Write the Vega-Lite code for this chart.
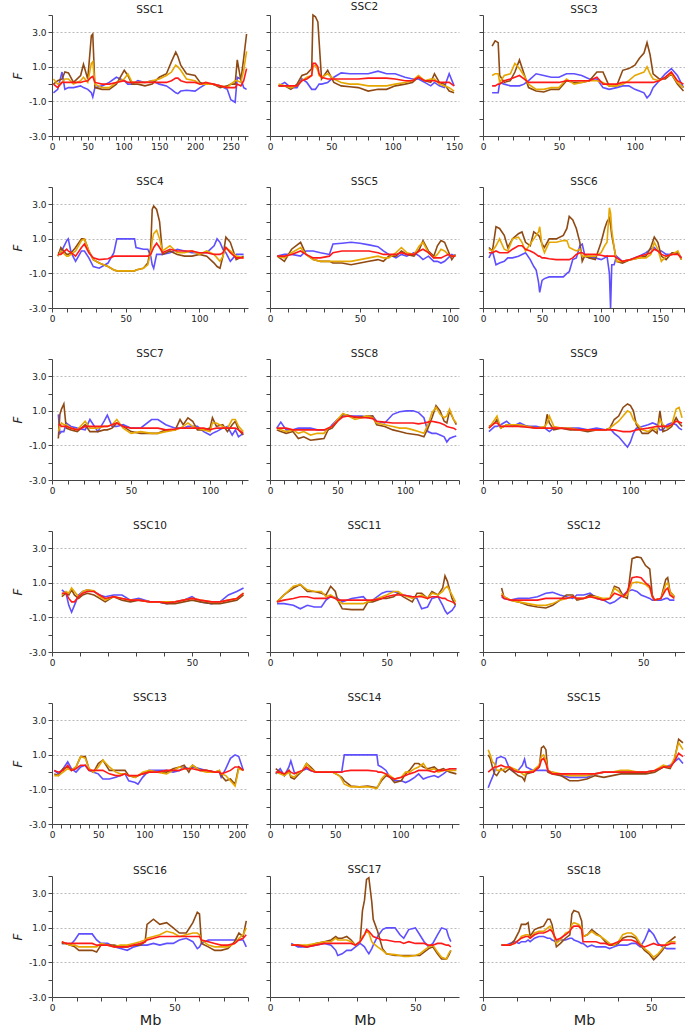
{
"$schema":"https://vega.github.io/schema/vega-lite/v6.json",
"padding":{"top":2,"left":11,"right":0,"bottom":0},
"background":"white",
"config":{
 "view":{"stroke":null},
 "axis":{"labelFont":"DejaVu Sans","labelFontSize":9,"labelColor":"#222","domainColor":"#444","tickColor":"#444","tickSize":4,"labelPadding":2,"titleFont":"DejaVu Sans","titleFontWeight":"normal","titleColor":"#222"},
 "axisY":{"gridColor":"#BBBBBB","gridDash":[2,2],"gridWidth":1},
 "axisX":{"grid":false,"labelFlush":false,"labelOverlap":false},
 "title":{"font":"DejaVu Sans","fontSize":10.5,"fontWeight":"normal","color":"#222","offset":-1,"frame":"group"},
 "line":{"strokeWidth":1.6,"clip":true}
},
"data":{"values":[
{"c":"SSC1","x":2,"blue":-0.5,"brown":0,"gold":0.3,"red":0},
{"c":"SSC1","x":8,"blue":-0.3,"brown":0.2,"gold":0,"red":-0.2},
{"c":"SSC1","x":14,"blue":0.7,"brown":0.3,"gold":0.1,"red":0.1},
{"c":"SSC1","x":18,"blue":-0.3,"brown":0.7,"gold":0.3,"red":0.1},
{"c":"SSC1","x":23,"blue":-0.2,"brown":0.65,"gold":0.3,"red":0.1},
{"c":"SSC1","x":30,"blue":-0.2,"brown":0.1,"gold":0,"red":0.1},
{"c":"SSC1","x":40,"blue":-0.1,"brown":0.5,"gold":0.2,"red":0.1},
{"c":"SSC1","x":44,"blue":-0.2,"brown":1.15,"gold":0.4,"red":0.15},
{"c":"SSC1","x":50,"blue":-0.3,"brown":0.3,"gold":0.1,"red":0.2},
{"c":"SSC1","x":55,"blue":-0.5,"brown":2.8,"gold":1.2,"red":0.4},
{"c":"SSC1","x":57,"blue":-0.75,"brown":2.9,"gold":1.3,"red":0.45},
{"c":"SSC1","x":60,"blue":-0.2,"brown":-0.2,"gold":0,"red":0.1},
{"c":"SSC1","x":70,"blue":-0.1,"brown":-0.3,"gold":-0.2,"red":0},
{"c":"SSC1","x":80,"blue":0.1,"brown":-0.3,"gold":-0.2,"red":0},
{"c":"SSC1","x":90,"blue":0.4,"brown":0,"gold":0.1,"red":0.1},
{"c":"SSC1","x":101,"blue":0.2,"brown":0.8,"gold":0.3,"red":0.2},
{"c":"SSC1","x":106,"blue":0,"brown":0.5,"gold":0.6,"red":0.1},
{"c":"SSC1","x":112,"blue":0,"brown":0,"gold":0.1,"red":0.1},
{"c":"SSC1","x":120,"blue":0.2,"brown":0,"gold":0.1,"red":0.1},
{"c":"SSC1","x":130,"blue":0.1,"brown":-0.1,"gold":0.1,"red":0.1},
{"c":"SSC1","x":140,"blue":0.2,"brown":0,"gold":0.2,"red":0.1},
{"c":"SSC1","x":150,"blue":0,"brown":0.4,"gold":0.3,"red":0.1},
{"c":"SSC1","x":160,"blue":-0.1,"brown":0.6,"gold":0.5,"red":0.1},
{"c":"SSC1","x":167,"blue":-0.3,"brown":1.3,"gold":0.7,"red":0.2},
{"c":"SSC1","x":173,"blue":-0.5,"brown":1.85,"gold":1.1,"red":0.35},
{"c":"SSC1","x":176,"blue":-0.55,"brown":1.6,"gold":1.0,"red":0.35},
{"c":"SSC1","x":180,"blue":-0.4,"brown":1.1,"gold":0.8,"red":0.2},
{"c":"SSC1","x":188,"blue":-0.35,"brown":0.6,"gold":0.3,"red":0.1},
{"c":"SSC1","x":200,"blue":-0.4,"brown":0.5,"gold":0.2,"red":0.1},
{"c":"SSC1","x":207,"blue":-0.2,"brown":0.1,"gold":0,"red":0},
{"c":"SSC1","x":215,"blue":0,"brown":0,"gold":0,"red":0.1},
{"c":"SSC1","x":225,"blue":0,"brown":0,"gold":0,"red":0},
{"c":"SSC1","x":235,"blue":-0.1,"brown":-0.2,"gold":-0.1,"red":-0.1},
{"c":"SSC1","x":245,"blue":-0.3,"brown":-0.1,"gold":-0.2,"red":-0.2},
{"c":"SSC1","x":250,"blue":-0.9,"brown":0,"gold":0,"red":-0.2},
{"c":"SSC1","x":256,"blue":-1.05,"brown":0,"gold":0.2,"red":-0.2},
{"c":"SSC1","x":259,"blue":0.4,"brown":1.4,"gold":0.2,"red":0},
{"c":"SSC1","x":264,"blue":0.3,"brown":0.2,"gold":0.1,"red":-0.1},
{"c":"SSC1","x":268,"blue":-0.2,"brown":1.5,"gold":0.8,"red":0.2},
{"c":"SSC1","x":272,"blue":-0.3,"brown":2.9,"gold":1.9,"red":0.9},
{"c":"SSC2","x":7,"blue":-0.1,"brown":-0.1,"gold":0,"red":-0.1},
{"c":"SSC2","x":12,"blue":0.1,"brown":-0.1,"gold":-0.1,"red":-0.1},
{"c":"SSC2","x":17,"blue":-0.2,"brown":-0.3,"gold":-0.2,"red":-0.1},
{"c":"SSC2","x":22,"blue":-0.2,"brown":0,"gold":-0.1,"red":-0.1},
{"c":"SSC2","x":26,"blue":0.3,"brown":0.5,"gold":0.2,"red":0.2},
{"c":"SSC2","x":30,"blue":0.1,"brown":0.6,"gold":0.4,"red":0.3},
{"c":"SSC2","x":34,"blue":-0.3,"brown":0.9,"gold":0.5,"red":0.5},
{"c":"SSC2","x":35,"blue":-0.3,"brown":4.0,"gold":1.0,"red":1.2},
{"c":"SSC2","x":37,"blue":-0.3,"brown":3.9,"gold":1.1,"red":1.2},
{"c":"SSC2","x":39,"blue":-0.1,"brown":3.6,"gold":0.8,"red":1.0},
{"c":"SSC2","x":40,"blue":0,"brown":2.5,"gold":0.5,"red":0.6},
{"c":"SSC2","x":42,"blue":0,"brown":0.3,"gold":0.4,"red":0.4},
{"c":"SSC2","x":47,"blue":0.1,"brown":0.8,"gold":0.6,"red":0.3},
{"c":"SSC2","x":52,"blue":0.4,"brown":0.1,"gold":0.3,"red":0.3},
{"c":"SSC2","x":58,"blue":0.65,"brown":-0.1,"gold":0.1,"red":0.3},
{"c":"SSC2","x":65,"blue":0.6,"brown":-0.15,"gold":0,"red":0.3},
{"c":"SSC2","x":72,"blue":0.6,"brown":-0.2,"gold":0,"red":0.3},
{"c":"SSC2","x":80,"blue":0.6,"brown":-0.4,"gold":-0.1,"red":0.35},
{"c":"SSC2","x":88,"blue":0.75,"brown":-0.3,"gold":-0.1,"red":0.35},
{"c":"SSC2","x":95,"blue":0.6,"brown":-0.3,"gold":-0.1,"red":0.35},
{"c":"SSC2","x":102,"blue":0.6,"brown":-0.1,"gold":0,"red":0.3},
{"c":"SSC2","x":110,"blue":0.4,"brown":0,"gold":0.1,"red":0.2},
{"c":"SSC2","x":116,"blue":0.3,"brown":0.1,"gold":0.2,"red":0.2},
{"c":"SSC2","x":121,"blue":0.3,"brown":0.4,"gold":0.5,"red":0.4},
{"c":"SSC2","x":126,"blue":0.1,"brown":0.2,"gold":0.2,"red":0.2},
{"c":"SSC2","x":131,"blue":-0.1,"brown":0.1,"gold":0.3,"red":0.2},
{"c":"SSC2","x":134,"blue":0.1,"brown":0.6,"gold":0.3,"red":0.2},
{"c":"SSC2","x":138,"blue":-0.1,"brown":0.1,"gold":0,"red":0.1},
{"c":"SSC2","x":142,"blue":-0.2,"brown":0,"gold":-0.1,"red":0.1},
{"c":"SSC2","x":146,"blue":0.6,"brown":-0.4,"gold":-0.2,"red":0.1},
{"c":"SSC2","x":150,"blue":-0.1,"brown":-0.5,"gold":-0.4,"red":-0.1},
{"c":"SSC3","x":6,"blue":-0.5,"brown":2.2,"gold":0.5,"red":-0.1},
{"c":"SSC3","x":8,"blue":-0.5,"brown":2.5,"gold":0.6,"red":-0.1},
{"c":"SSC3","x":10,"blue":-0.5,"brown":2.4,"gold":0.6,"red":0},
{"c":"SSC3","x":11,"blue":0.1,"brown":0.5,"gold":0.1,"red":0},
{"c":"SSC3","x":14,"blue":0,"brown":0.1,"gold":0.5,"red":0.2},
{"c":"SSC3","x":18,"blue":-0.1,"brown":0.2,"gold":0.6,"red":0.3},
{"c":"SSC3","x":21,"blue":-0.1,"brown":0.7,"gold":1.2,"red":0.4},
{"c":"SSC3","x":24,"blue":-0.1,"brown":1.4,"gold":0.9,"red":0.5},
{"c":"SSC3","x":27,"blue":0,"brown":0.6,"gold":0.5,"red":0.3},
{"c":"SSC3","x":30,"blue":0.2,"brown":-0.2,"gold":0,"red":0.1},
{"c":"SSC3","x":35,"blue":0.6,"brown":-0.4,"gold":-0.3,"red":0.1},
{"c":"SSC3","x":40,"blue":0.5,"brown":-0.45,"gold":-0.3,"red":0.1},
{"c":"SSC3","x":45,"blue":0.4,"brown":-0.3,"gold":-0.2,"red":0.1},
{"c":"SSC3","x":50,"blue":0.4,"brown":-0.3,"gold":-0.2,"red":0.1},
{"c":"SSC3","x":55,"blue":0.6,"brown":0.2,"gold":0.3,"red":0.2},
{"c":"SSC3","x":60,"blue":0.6,"brown":0.1,"gold":0,"red":0.2},
{"c":"SSC3","x":65,"blue":0.5,"brown":0.1,"gold":0.1,"red":0.2},
{"c":"SSC3","x":70,"blue":0.3,"brown":0.2,"gold":0.2,"red":0.2},
{"c":"SSC3","x":75,"blue":0.3,"brown":0.7,"gold":0.2,"red":0.4},
{"c":"SSC3","x":79,"blue":-0.2,"brown":0.7,"gold":0.1,"red":0},
{"c":"SSC3","x":83,"blue":-0.3,"brown":-0.1,"gold":-0.1,"red":0},
{"c":"SSC3","x":88,"blue":-0.2,"brown":-0.1,"gold":-0.1,"red":0},
{"c":"SSC3","x":92,"blue":-0.1,"brown":0.8,"gold":0,"red":0.1},
{"c":"SSC3","x":96,"blue":-0.1,"brown":0.9,"gold":0.2,"red":0.1},
{"c":"SSC3","x":100,"blue":-0.3,"brown":1.1,"gold":0.5,"red":0.1},
{"c":"SSC3","x":103,"blue":-0.4,"brown":1.5,"gold":0.6,"red":0.1},
{"c":"SSC3","x":106,"blue":-0.5,"brown":1.8,"gold":0.7,"red":0.1},
{"c":"SSC3","x":108,"blue":-0.8,"brown":2.4,"gold":1.0,"red":0.1},
{"c":"SSC3","x":110,"blue":-0.6,"brown":1.7,"gold":0.6,"red":0.1},
{"c":"SSC3","x":112,"blue":-0.2,"brown":0.6,"gold":0.3,"red":0.1},
{"c":"SSC3","x":116,"blue":0.2,"brown":0.3,"gold":0.2,"red":0.2},
{"c":"SSC3","x":120,"blue":0.6,"brown":0.3,"gold":0.4,"red":0.4},
{"c":"SSC3","x":124,"blue":0.9,"brown":0.6,"gold":0.6,"red":0.7},
{"c":"SSC3","x":128,"blue":0.5,"brown":0,"gold":0.1,"red":0.2},
{"c":"SSC3","x":132,"blue":-0.2,"brown":-0.4,"gold":-0.2,"red":0},
{"c":"SSC4","x":4,"blue":0.2,"brown":0,"gold":0,"red":0.1},
{"c":"SSC4","x":6,"blue":0.2,"brown":0.5,"gold":0.3,"red":0.1},
{"c":"SSC4","x":10,"blue":0.9,"brown":0.1,"gold":0,"red":0.4},
{"c":"SSC4","x":11,"blue":1.0,"brown":0.1,"gold":0,"red":0.3},
{"c":"SSC4","x":13,"blue":0.2,"brown":0.2,"gold":0.1,"red":0.2},
{"c":"SSC4","x":16,"blue":-0.3,"brown":0.5,"gold":0.3,"red":0},
{"c":"SSC4","x":20,"blue":0.3,"brown":1.0,"gold":0.9,"red":0.5},
{"c":"SSC4","x":22,"blue":0.3,"brown":1.0,"gold":1.0,"red":0.7},
{"c":"SSC4","x":25,"blue":-0.1,"brown":0.3,"gold":0.3,"red":0.2},
{"c":"SSC4","x":28,"blue":-0.6,"brown":-0.2,"gold":-0.2,"red":-0.1},
{"c":"SSC4","x":32,"blue":-0.7,"brown":-0.4,"gold":-0.4,"red":-0.2},
{"c":"SSC4","x":38,"blue":-0.4,"brown":-0.6,"gold":-0.6,"red":-0.15},
{"c":"SSC4","x":42,"blue":0.2,"brown":-0.8,"gold":-0.8,"red":0},
{"c":"SSC4","x":44,"blue":1.0,"brown":-0.85,"gold":-0.85,"red":0},
{"c":"SSC4","x":50,"blue":1.0,"brown":-0.85,"gold":-0.85,"red":0},
{"c":"SSC4","x":56,"blue":1.0,"brown":-0.85,"gold":-0.85,"red":0},
{"c":"SSC4","x":57,"blue":0.5,"brown":-0.8,"gold":-0.8,"red":0},
{"c":"SSC4","x":62,"blue":0.4,"brown":-0.7,"gold":-0.7,"red":0},
{"c":"SSC4","x":65,"blue":0.4,"brown":-0.4,"gold":-0.5,"red":0},
{"c":"SSC4","x":67,"blue":0,"brown":0.5,"gold":0.2,"red":0.1},
{"c":"SSC4","x":68,"blue":-0.5,"brown":2.7,"gold":0.9,"red":0.3},
{"c":"SSC4","x":69,"blue":-0.7,"brown":2.9,"gold":1.3,"red":0.5},
{"c":"SSC4","x":71,"blue":0.1,"brown":2.7,"gold":1.5,"red":0.75},
{"c":"SSC4","x":73,"blue":0.1,"brown":2.0,"gold":1.0,"red":0.5},
{"c":"SSC4","x":75,"blue":0.1,"brown":0.1,"gold":0.3,"red":0.2},
{"c":"SSC4","x":80,"blue":0.2,"brown":0.3,"gold":0.6,"red":0.4},
{"c":"SSC4","x":85,"blue":0.4,"brown":0.1,"gold":0.2,"red":0.3},
{"c":"SSC4","x":90,"blue":0.3,"brown":0,"gold":0.2,"red":0.3},
{"c":"SSC4","x":95,"blue":0.2,"brown":0,"gold":0.3,"red":0.3},
{"c":"SSC4","x":100,"blue":0.2,"brown":0.1,"gold":0.1,"red":0.2},
{"c":"SSC4","x":105,"blue":0.2,"brown":0,"gold":0.3,"red":0.2},
{"c":"SSC4","x":110,"blue":0.6,"brown":-0.4,"gold":0.1,"red":0.1},
{"c":"SSC4","x":112,"blue":1.0,"brown":-0.6,"gold":-0.1,"red":0.1},
{"c":"SSC4","x":114,"blue":0.8,"brown":-0.7,"gold":-0.3,"red":0.1},
{"c":"SSC4","x":116,"blue":0.4,"brown":0,"gold":0,"red":0.2},
{"c":"SSC4","x":118,"blue":0.2,"brown":1.1,"gold":0.5,"red":0.5},
{"c":"SSC4","x":121,"blue":-0.3,"brown":0.8,"gold":0.3,"red":0.2},
{"c":"SSC4","x":125,"blue":0.1,"brown":-0.2,"gold":0,"red":-0.1},
{"c":"SSC4","x":130,"blue":0.1,"brown":0,"gold":-0.1,"red":-0.1},
{"c":"SSC5","x":4,"blue":0,"brown":0,"gold":0,"red":0},
{"c":"SSC5","x":8,"blue":0.1,"brown":-0.3,"gold":-0.1,"red":0},
{"c":"SSC5","x":12,"blue":0.1,"brown":0.4,"gold":0.2,"red":0.1},
{"c":"SSC5","x":17,"blue":0,"brown":0.8,"gold":0.5,"red":0.3},
{"c":"SSC5","x":20,"blue":0.3,"brown":0.1,"gold":0.1,"red":0.1},
{"c":"SSC5","x":24,"blue":0.3,"brown":-0.2,"gold":-0.2,"red":-0.1},
{"c":"SSC5","x":28,"blue":0.2,"brown":-0.3,"gold":-0.3,"red":-0.1},
{"c":"SSC5","x":33,"blue":0.1,"brown":-0.3,"gold":-0.3,"red":0},
{"c":"SSC5","x":35,"blue":0.7,"brown":-0.4,"gold":-0.3,"red":0.2},
{"c":"SSC5","x":40,"blue":0.75,"brown":-0.4,"gold":-0.3,"red":0.3},
{"c":"SSC5","x":45,"blue":0.8,"brown":-0.5,"gold":-0.3,"red":0.3},
{"c":"SSC5","x":50,"blue":0.75,"brown":-0.4,"gold":-0.2,"red":0.3},
{"c":"SSC5","x":55,"blue":0.65,"brown":-0.3,"gold":-0.1,"red":0.3},
{"c":"SSC5","x":60,"blue":0.55,"brown":-0.2,"gold":0,"red":0.2},
{"c":"SSC5","x":63,"blue":0.3,"brown":-0.3,"gold":-0.1,"red":0.1},
{"c":"SSC5","x":66,"blue":0.1,"brown":0,"gold":-0.1,"red":0.1},
{"c":"SSC5","x":70,"blue":-0.1,"brown":0,"gold":0.2,"red":0.1},
{"c":"SSC5","x":73,"blue":0.1,"brown":0.3,"gold":0.5,"red":0.2},
{"c":"SSC5","x":76,"blue":0,"brown":0.1,"gold":0.2,"red":0.1},
{"c":"SSC5","x":80,"blue":0.2,"brown":0,"gold":0.1,"red":0.1},
{"c":"SSC5","x":83,"blue":0,"brown":0.4,"gold":0.6,"red":0.3},
{"c":"SSC5","x":85,"blue":-0.2,"brown":0.9,"gold":0.8,"red":0.4},
{"c":"SSC5","x":88,"blue":0,"brown":0.3,"gold":0.2,"red":0.2},
{"c":"SSC5","x":91,"blue":-0.3,"brown":0,"gold":-0.1,"red":-0.1},
{"c":"SSC5","x":93,"blue":-0.3,"brown":0.6,"gold":0.1,"red":-0.1},
{"c":"SSC5","x":95,"blue":-0.4,"brown":0.9,"gold":0.4,"red":-0.1},
{"c":"SSC5","x":97,"blue":-0.3,"brown":0.8,"gold":0.3,"red":0},
{"c":"SSC5","x":99,"blue":-0.1,"brown":0.3,"gold":0.1,"red":0.1},
{"c":"SSC5","x":101,"blue":0.1,"brown":-0.2,"gold":0,"red":0},
{"c":"SSC5","x":103,"blue":0,"brown":0.1,"gold":0,"red":0},
{"c":"SSC6","x":5,"blue":-0.1,"brown":0.5,"gold":0.4,"red":0.2},
{"c":"SSC6","x":8,"blue":0.3,"brown":0.3,"gold":0.3,"red":0.2},
{"c":"SSC6","x":11,"blue":-0.5,"brown":1.7,"gold":0.6,"red":0.3},
{"c":"SSC6","x":14,"blue":-0.4,"brown":1.6,"gold":1.0,"red":0.2},
{"c":"SSC6","x":18,"blue":-0.3,"brown":1.2,"gold":0.4,"red":0.2},
{"c":"SSC6","x":21,"blue":-0.1,"brown":0.5,"gold":0.3,"red":0.2},
{"c":"SSC6","x":25,"blue":-0.1,"brown":1.0,"gold":1.0,"red":0.4},
{"c":"SSC6","x":30,"blue":0,"brown":1.3,"gold":1.1,"red":0.6},
{"c":"SSC6","x":33,"blue":0.1,"brown":1.4,"gold":0.8,"red":0.6},
{"c":"SSC6","x":36,"blue":0.2,"brown":0.8,"gold":0.3,"red":0.4},
{"c":"SSC6","x":40,"blue":-0.2,"brown":0.6,"gold":0.7,"red":0.3},
{"c":"SSC6","x":43,"blue":-0.6,"brown":1.4,"gold":1.0,"red":0.2},
{"c":"SSC6","x":45,"blue":-0.8,"brown":1.3,"gold":1.2,"red":0.1},
{"c":"SSC6","x":47,"blue":-1.5,"brown":1.2,"gold":1.4,"red":0},
{"c":"SSC6","x":48,"blue":-2.1,"brown":1.1,"gold":1.7,"red":0},
{"c":"SSC6","x":50,"blue":-1.4,"brown":0.7,"gold":0.6,"red":-0.1},
{"c":"SSC6","x":52,"blue":-1.3,"brown":0.5,"gold":0.2,"red":-0.1},
{"c":"SSC6","x":56,"blue":-1.2,"brown":1.0,"gold":0.8,"red":-0.15},
{"c":"SSC6","x":62,"blue":-1.2,"brown":1.0,"gold":0.8,"red":-0.2},
{"c":"SSC6","x":68,"blue":-1.2,"brown":1.2,"gold":0.9,"red":-0.2},
{"c":"SSC6","x":71,"blue":-1.0,"brown":1.6,"gold":0.9,"red":-0.2},
{"c":"SSC6","x":73,"blue":-0.9,"brown":2.3,"gold":0.5,"red":-0.2},
{"c":"SSC6","x":76,"blue":-0.2,"brown":2.1,"gold":0.4,"red":-0.1},
{"c":"SSC6","x":79,"blue":-0.1,"brown":1.6,"gold":0.3,"red":0.1},
{"c":"SSC6","x":82,"blue":0.6,"brown":0.8,"gold":0.4,"red":0.2},
{"c":"SSC6","x":84,"blue":0.7,"brown":-0.3,"gold":0,"red":0.2},
{"c":"SSC6","x":86,"blue":0.1,"brown":0,"gold":0,"red":0.1},
{"c":"SSC6","x":90,"blue":-0.1,"brown":-0.1,"gold":0,"red":0.1},
{"c":"SSC6","x":95,"blue":-0.1,"brown":-0.2,"gold":0,"red":0.1},
{"c":"SSC6","x":100,"blue":-0.2,"brown":0.8,"gold":0.2,"red":0.05},
{"c":"SSC6","x":103,"blue":-0.1,"brown":1.6,"gold":0.6,"red":0},
{"c":"SSC6","x":105,"blue":0,"brown":2.0,"gold":0.8,"red":0},
{"c":"SSC6","x":107,"blue":-1.0,"brown":2.2,"gold":2.8,"red":0},
{"c":"SSC6","x":108,"blue":-3.0,"brown":1.8,"gold":2.5,"red":0},
{"c":"SSC6","x":109,"blue":-0.5,"brown":1.2,"gold":1.5,"red":0},
{"c":"SSC6","x":111,"blue":-0.5,"brown":0.5,"gold":0.5,"red":0},
{"c":"SSC6","x":113,"blue":0,"brown":-0.3,"gold":-0.3,"red":-0.1},
{"c":"SSC6","x":118,"blue":-0.3,"brown":-0.4,"gold":-0.3,"red":-0.3},
{"c":"SSC6","x":125,"blue":-0.2,"brown":-0.2,"gold":-0.2,"red":-0.2},
{"c":"SSC6","x":132,"blue":0,"brown":-0.1,"gold":-0.1,"red":0},
{"c":"SSC6","x":138,"blue":0.2,"brown":0,"gold":-0.1,"red":0.1},
{"c":"SSC6","x":142,"blue":0.4,"brown":0.5,"gold":0.1,"red":0.2},
{"c":"SSC6","x":145,"blue":0.5,"brown":1.1,"gold":0.8,"red":0.4},
{"c":"SSC6","x":148,"blue":0.3,"brown":0.8,"gold":0.4,"red":0.3},
{"c":"SSC6","x":151,"blue":0.3,"brown":0,"gold":-0.3,"red":0.1},
{"c":"SSC6","x":155,"blue":0.1,"brown":-0.2,"gold":0,"red":0},
{"c":"SSC6","x":160,"blue":0.1,"brown":0.2,"gold":0.1,"red":0.1},
{"c":"SSC6","x":165,"blue":0.2,"brown":0.2,"gold":0.3,"red":0.1},
{"c":"SSC6","x":168,"blue":-0.1,"brown":-0.2,"gold":-0.2,"red":-0.1},
{"c":"SSC7","x":4,"blue":0.8,"brown":-0.6,"gold":-0.2,"red":0.2},
{"c":"SSC7","x":5,"blue":-0.3,"brown":0.8,"gold":0.1,"red":0.2},
{"c":"SSC7","x":6,"blue":-0.2,"brown":1.1,"gold":0.3,"red":0.1},
{"c":"SSC7","x":7.5,"blue":-0.2,"brown":1.4,"gold":0.2,"red":0.1},
{"c":"SSC7","x":9,"blue":0.3,"brown":0,"gold":0.2,"red":0.1},
{"c":"SSC7","x":12,"blue":0.1,"brown":-0.1,"gold":0,"red":0},
{"c":"SSC7","x":16,"blue":0,"brown":-0.2,"gold":-0.1,"red":-0.1},
{"c":"SSC7","x":21,"blue":-0.1,"brown":0.2,"gold":0.4,"red":0.1},
{"c":"SSC7","x":24,"blue":0.5,"brown":-0.2,"gold":0,"red":0.1},
{"c":"SSC7","x":29,"blue":-0.2,"brown":-0.2,"gold":0,"red":0.1},
{"c":"SSC7","x":33,"blue":0.4,"brown":-0.1,"gold":0.1,"red":0.1},
{"c":"SSC7","x":35,"blue":0.75,"brown":-0.1,"gold":0.1,"red":0.1},
{"c":"SSC7","x":38,"blue":0.1,"brown":0,"gold":0.2,"red":0.2},
{"c":"SSC7","x":41,"blue":0.1,"brown":0.3,"gold":0.5,"red":0.3},
{"c":"SSC7","x":45,"blue":0.2,"brown":0.1,"gold":0,"red":0.1},
{"c":"SSC7","x":50,"blue":0,"brown":-0.2,"gold":-0.3,"red":0},
{"c":"SSC7","x":56,"blue":0,"brown":-0.3,"gold":-0.2,"red":0},
{"c":"SSC7","x":63,"blue":0.5,"brown":-0.3,"gold":-0.3,"red":0},
{"c":"SSC7","x":67,"blue":0.5,"brown":-0.3,"gold":-0.3,"red":0},
{"c":"SSC7","x":72,"blue":0.2,"brown":-0.1,"gold":-0.2,"red":-0.1},
{"c":"SSC7","x":78,"blue":0,"brown":-0.1,"gold":-0.1,"red":-0.05},
{"c":"SSC7","x":81,"blue":0,"brown":0.5,"gold":0,"red":0},
{"c":"SSC7","x":83,"blue":0,"brown":0.2,"gold":0.1,"red":0},
{"c":"SSC7","x":86,"blue":0.1,"brown":0.6,"gold":0.3,"red":0},
{"c":"SSC7","x":89,"blue":0.1,"brown":0.4,"gold":0.1,"red":0},
{"c":"SSC7","x":92,"blue":0.1,"brown":-0.1,"gold":0,"red":0},
{"c":"SSC7","x":96,"blue":-0.2,"brown":-0.1,"gold":-0.1,"red":0},
{"c":"SSC7","x":100,"blue":-0.4,"brown":0,"gold":-0.2,"red":-0.1},
{"c":"SSC7","x":101.5,"blue":-0.3,"brown":0.6,"gold":0.3,"red":-0.05},
{"c":"SSC7","x":104,"blue":-0.2,"brown":0.1,"gold":0.3,"red":0},
{"c":"SSC7","x":108,"blue":0,"brown":0.2,"gold":0.1,"red":0},
{"c":"SSC7","x":111,"blue":0.1,"brown":-0.2,"gold":0,"red":0},
{"c":"SSC7","x":114,"blue":-0.4,"brown":0.2,"gold":0.5,"red":0},
{"c":"SSC7","x":116,"blue":-0.1,"brown":0.4,"gold":0.5,"red":0},
{"c":"SSC7","x":118,"blue":-0.5,"brown":-0.1,"gold":0.1,"red":-0.1},
{"c":"SSC7","x":121,"blue":-0.3,"brown":-0.4,"gold":-0.2,"red":-0.3},
{"c":"SSC8","x":5,"blue":0,"brown":-0.1,"gold":0,"red":0},
{"c":"SSC8","x":8,"blue":0.35,"brown":-0.2,"gold":-0.1,"red":0},
{"c":"SSC8","x":12,"blue":-0.1,"brown":-0.3,"gold":-0.2,"red":0},
{"c":"SSC8","x":17,"blue":-0.1,"brown":-0.2,"gold":-0.1,"red":-0.1},
{"c":"SSC8","x":21,"blue":0,"brown":-0.6,"gold":-0.3,"red":-0.1},
{"c":"SSC8","x":25,"blue":0,"brown":-0.5,"gold":-0.2,"red":-0.1},
{"c":"SSC8","x":30,"blue":0,"brown":-0.7,"gold":-0.4,"red":-0.1},
{"c":"SSC8","x":35,"blue":-0.1,"brown":-0.65,"gold":-0.3,"red":-0.1},
{"c":"SSC8","x":40,"blue":-0.1,"brown":-0.6,"gold":-0.3,"red":-0.1},
{"c":"SSC8","x":43,"blue":-0.1,"brown":-0.1,"gold":0,"red":0},
{"c":"SSC8","x":46,"blue":0.2,"brown":0,"gold":0.1,"red":0.1},
{"c":"SSC8","x":50,"blue":0.5,"brown":0.4,"gold":0.5,"red":0.4},
{"c":"SSC8","x":54,"blue":0.7,"brown":0.8,"gold":0.85,"red":0.65},
{"c":"SSC8","x":58,"blue":0.7,"brown":0.75,"gold":0.7,"red":0.7},
{"c":"SSC8","x":63,"blue":0.7,"brown":0.6,"gold":0.5,"red":0.65},
{"c":"SSC8","x":68,"blue":0.7,"brown":0.65,"gold":0.6,"red":0.6},
{"c":"SSC8","x":72,"blue":0.6,"brown":0.7,"gold":0.7,"red":0.6},
{"c":"SSC8","x":76,"blue":0.7,"brown":0.7,"gold":0.6,"red":0.55},
{"c":"SSC8","x":79,"blue":0.4,"brown":0.2,"gold":0.3,"red":0.4},
{"c":"SSC8","x":85,"blue":0.3,"brown":0.1,"gold":0.2,"red":0.35},
{"c":"SSC8","x":91,"blue":0.8,"brown":-0.1,"gold":0.1,"red":0.3},
{"c":"SSC8","x":96,"blue":0.95,"brown":-0.2,"gold":0,"red":0.3},
{"c":"SSC8","x":101,"blue":1.0,"brown":-0.3,"gold":0,"red":0.3},
{"c":"SSC8","x":106,"blue":1.0,"brown":-0.35,"gold":-0.1,"red":0.3},
{"c":"SSC8","x":110,"blue":0.9,"brown":-0.4,"gold":-0.2,"red":0.25},
{"c":"SSC8","x":114,"blue":0.6,"brown":-0.5,"gold":-0.3,"red":0.3},
{"c":"SSC8","x":117,"blue":-0.2,"brown":0,"gold":0.2,"red":0.35},
{"c":"SSC8","x":120,"blue":-0.3,"brown":0.6,"gold":0.9,"red":0.4},
{"c":"SSC8","x":123,"blue":-0.3,"brown":1.3,"gold":1.2,"red":0.35},
{"c":"SSC8","x":126,"blue":-0.4,"brown":1.0,"gold":0.8,"red":0.3},
{"c":"SSC8","x":129,"blue":-0.5,"brown":0.4,"gold":0.6,"red":0.2},
{"c":"SSC8","x":131,"blue":-0.8,"brown":0.3,"gold":0.7,"red":0.1},
{"c":"SSC8","x":133,"blue":-0.6,"brown":1.0,"gold":1.1,"red":0.05},
{"c":"SSC8","x":136,"blue":-0.5,"brown":0.5,"gold":0.5,"red":0},
{"c":"SSC8","x":138,"blue":-0.45,"brown":0.2,"gold":0.3,"red":-0.1},
{"c":"SSC9","x":4,"blue":-0.2,"brown":0.1,"gold":0,"red":0},
{"c":"SSC9","x":8,"blue":0.1,"brown":0.3,"gold":0.5,"red":0.3},
{"c":"SSC9","x":9.5,"blue":0.1,"brown":0.5,"gold":0.7,"red":0.3},
{"c":"SSC9","x":12,"blue":0.2,"brown":0,"gold":0,"red":0.1},
{"c":"SSC9","x":16,"blue":0.4,"brown":0.2,"gold":0.2,"red":0.1},
{"c":"SSC9","x":20,"blue":0.1,"brown":0.2,"gold":0.2,"red":0.1},
{"c":"SSC9","x":25,"blue":0.3,"brown":0.1,"gold":0.2,"red":0.1},
{"c":"SSC9","x":30,"blue":0.1,"brown":0.1,"gold":0.1,"red":0.05},
{"c":"SSC9","x":36,"blue":0.1,"brown":0,"gold":0,"red":0},
{"c":"SSC9","x":42,"blue":0,"brown":0,"gold":0.1,"red":0},
{"c":"SSC9","x":43.5,"blue":-0.1,"brown":0.8,"gold":0.3,"red":0},
{"c":"SSC9","x":45,"blue":-0.2,"brown":0.3,"gold":0.7,"red":0},
{"c":"SSC9","x":48,"blue":0,"brown":-0.1,"gold":0.1,"red":0},
{"c":"SSC9","x":53,"blue":0,"brown":0,"gold":0,"red":0},
{"c":"SSC9","x":59,"blue":0,"brown":-0.1,"gold":0,"red":-0.05},
{"c":"SSC9","x":65,"blue":0,"brown":-0.1,"gold":-0.1,"red":-0.1},
{"c":"SSC9","x":71,"blue":-0.1,"brown":-0.2,"gold":-0.1,"red":-0.1},
{"c":"SSC9","x":77,"blue":0,"brown":-0.1,"gold":-0.1,"red":-0.1},
{"c":"SSC9","x":83,"blue":-0.1,"brown":-0.1,"gold":-0.1,"red":-0.1},
{"c":"SSC9","x":86,"blue":0,"brown":0,"gold":0,"red":-0.1},
{"c":"SSC9","x":89,"blue":-0.3,"brown":0.5,"gold":0.2,"red":-0.1},
{"c":"SSC9","x":92,"blue":-0.5,"brown":0.7,"gold":0.4,"red":-0.15},
{"c":"SSC9","x":95,"blue":-0.8,"brown":1.2,"gold":0.7,"red":-0.2},
{"c":"SSC9","x":98,"blue":-1.1,"brown":1.4,"gold":1.0,"red":-0.2},
{"c":"SSC9","x":100,"blue":-0.8,"brown":1.3,"gold":0.9,"red":-0.2},
{"c":"SSC9","x":102,"blue":-0.3,"brown":1.0,"gold":0.5,"red":-0.15},
{"c":"SSC9","x":104,"blue":0,"brown":0.2,"gold":0.3,"red":-0.1},
{"c":"SSC9","x":108,"blue":0.1,"brown":-0.3,"gold":-0.1,"red":-0.05},
{"c":"SSC9","x":112,"blue":0.2,"brown":-0.3,"gold":-0.2,"red":0},
{"c":"SSC9","x":115,"blue":0.3,"brown":-0.1,"gold":0,"red":0.05},
{"c":"SSC9","x":118,"blue":0.2,"brown":-0.3,"gold":-0.1,"red":0.1},
{"c":"SSC9","x":120,"blue":-0.1,"brown":1.0,"gold":0.5,"red":0.1},
{"c":"SSC9","x":122,"blue":-0.1,"brown":-0.2,"gold":0.2,"red":0.1},
{"c":"SSC9","x":125,"blue":0.2,"brown":-0.1,"gold":0,"red":0.1},
{"c":"SSC9","x":128,"blue":0.3,"brown":0.1,"gold":0.2,"red":0.2},
{"c":"SSC9","x":131,"blue":0.2,"brown":0.6,"gold":1.1,"red":0.4},
{"c":"SSC9","x":133,"blue":0,"brown":0.3,"gold":1.2,"red":0.35},
{"c":"SSC9","x":135,"blue":-0.1,"brown":0.1,"gold":0.6,"red":0.3},
{"c":"SSC10","x":3.5,"blue":0.6,"brown":0.2,"gold":0.3,"red":0.4},
{"c":"SSC10","x":5,"blue":0.4,"brown":0.4,"gold":0.5,"red":0.4},
{"c":"SSC10","x":6,"blue":-0.3,"brown":0.3,"gold":0.4,"red":0.1},
{"c":"SSC10","x":7,"blue":-0.7,"brown":0.6,"gold":0.7,"red":-0.1},
{"c":"SSC10","x":8,"blue":-0.3,"brown":0.3,"gold":0.5,"red":-0.1},
{"c":"SSC10","x":9.5,"blue":0.3,"brown":0.1,"gold":0.2,"red":0.2},
{"c":"SSC10","x":11,"blue":0.5,"brown":0.3,"gold":0.5,"red":0.4},
{"c":"SSC10","x":12.6,"blue":0.6,"brown":0.4,"gold":0.6,"red":0.5},
{"c":"SSC10","x":15,"blue":0.5,"brown":0.3,"gold":0.55,"red":0.5},
{"c":"SSC10","x":17,"blue":0.3,"brown":0.1,"gold":0.2,"red":0.3},
{"c":"SSC10","x":19,"blue":0.2,"brown":-0.1,"gold":0,"red":0.1},
{"c":"SSC10","x":22,"blue":0.3,"brown":0.2,"gold":0.2,"red":0.2},
{"c":"SSC10","x":25,"blue":0.3,"brown":0,"gold":0.1,"red":0.1},
{"c":"SSC10","x":28,"blue":0,"brown":-0.1,"gold":0,"red":0},
{"c":"SSC10","x":31,"blue":0.1,"brown":0,"gold":0,"red":0},
{"c":"SSC10","x":35,"blue":-0.1,"brown":-0.1,"gold":-0.1,"red":-0.1},
{"c":"SSC10","x":38,"blue":-0.1,"brown":-0.1,"gold":-0.1,"red":-0.1},
{"c":"SSC10","x":41,"blue":-0.2,"brown":-0.2,"gold":-0.1,"red":-0.15},
{"c":"SSC10","x":44,"blue":-0.1,"brown":-0.2,"gold":-0.1,"red":-0.1},
{"c":"SSC10","x":47,"blue":0,"brown":-0.1,"gold":0,"red":0},
{"c":"SSC10","x":50,"blue":0.2,"brown":0,"gold":0.1,"red":0.1},
{"c":"SSC10","x":53,"blue":-0.1,"brown":-0.1,"gold":0,"red":0},
{"c":"SSC10","x":57,"blue":-0.2,"brown":-0.2,"gold":-0.1,"red":-0.1},
{"c":"SSC10","x":60,"blue":-0.1,"brown":-0.2,"gold":-0.1,"red":-0.1},
{"c":"SSC10","x":63,"blue":0.3,"brown":-0.1,"gold":0,"red":0},
{"c":"SSC10","x":66,"blue":0.5,"brown":0,"gold":0.1,"red":0.1},
{"c":"SSC10","x":68.4,"blue":0.7,"brown":0.3,"gold":0.4,"red":0.4},
{"c":"SSC11","x":3,"blue":-0.2,"brown":-0.1,"gold":-0.1,"red":-0.1},
{"c":"SSC11","x":6,"blue":-0.2,"brown":0.3,"gold":0.3,"red":0},
{"c":"SSC11","x":10,"blue":-0.3,"brown":0.7,"gold":0.8,"red":0.1},
{"c":"SSC11","x":13,"blue":-0.5,"brown":0.9,"gold":0.9,"red":0.2},
{"c":"SSC11","x":16,"blue":-0.3,"brown":0.5,"gold":0.6,"red":0.2},
{"c":"SSC11","x":19,"blue":-0.4,"brown":0.5,"gold":0.5,"red":0.1},
{"c":"SSC11","x":22,"blue":-0.4,"brown":0.4,"gold":0.5,"red":0.1},
{"c":"SSC11","x":24,"blue":0,"brown":0.3,"gold":0.2,"red":0.1},
{"c":"SSC11","x":26,"blue":0.2,"brown":0.8,"gold":0.3,"red":0.2},
{"c":"SSC11","x":28,"blue":0.15,"brown":0.5,"gold":0.1,"red":0.1},
{"c":"SSC11","x":29,"blue":0.1,"brown":0,"gold":0,"red":0},
{"c":"SSC11","x":31,"blue":-0.1,"brown":-0.5,"gold":-0.2,"red":0},
{"c":"SSC11","x":35,"blue":0.1,"brown":-0.55,"gold":-0.2,"red":0},
{"c":"SSC11","x":40,"blue":0.2,"brown":-0.55,"gold":-0.2,"red":0},
{"c":"SSC11","x":42,"blue":-0.1,"brown":-0.1,"gold":-0.1,"red":0},
{"c":"SSC11","x":44,"blue":0,"brown":-0.1,"gold":0,"red":0},
{"c":"SSC11","x":48,"blue":0.4,"brown":0.1,"gold":0.2,"red":0.1},
{"c":"SSC11","x":50,"blue":0.5,"brown":0.1,"gold":0.3,"red":0.2},
{"c":"SSC11","x":53,"blue":0.5,"brown":0.2,"gold":0.5,"red":0.3},
{"c":"SSC11","x":55,"blue":0.4,"brown":0.4,"gold":0.5,"red":0.3},
{"c":"SSC11","x":57,"blue":0.3,"brown":0.2,"gold":0.3,"red":0.3},
{"c":"SSC11","x":61,"blue":0.2,"brown":-0.1,"gold":0.1,"red":0.2},
{"c":"SSC11","x":63,"blue":0.1,"brown":0.4,"gold":0.2,"red":0.2},
{"c":"SSC11","x":65,"blue":-0.5,"brown":0.4,"gold":0.3,"red":0.2},
{"c":"SSC11","x":67.5,"blue":-0.4,"brown":0.1,"gold":0.1,"red":0.1},
{"c":"SSC11","x":69.4,"blue":0.1,"brown":0.5,"gold":0.4,"red":0.2},
{"c":"SSC11","x":72,"blue":0.2,"brown":0.3,"gold":0.3,"red":0.2},
{"c":"SSC11","x":74,"blue":-0.3,"brown":0.7,"gold":0.5,"red":0.1},
{"c":"SSC11","x":75,"blue":-0.6,"brown":1.4,"gold":0.7,"red":0.1},
{"c":"SSC11","x":76,"blue":-0.8,"brown":1.1,"gold":0.8,"red":0},
{"c":"SSC11","x":78,"blue":-0.6,"brown":0.1,"gold":0.3,"red":-0.1},
{"c":"SSC11","x":79.5,"blue":-0.3,"brown":-0.3,"gold":-0.1,"red":-0.2},
{"c":"SSC12","x":5.8,"blue":0.2,"brown":0.7,"gold":0.4,"red":0.3},
{"c":"SSC12","x":6.5,"blue":0.1,"brown":0.2,"gold":0.2,"red":0.1},
{"c":"SSC12","x":8.6,"blue":0,"brown":0,"gold":0,"red":0},
{"c":"SSC12","x":11,"blue":0.1,"brown":-0.1,"gold":-0.1,"red":0},
{"c":"SSC12","x":14,"blue":0.1,"brown":-0.3,"gold":-0.2,"red":0},
{"c":"SSC12","x":17,"blue":0.2,"brown":-0.4,"gold":-0.3,"red":0},
{"c":"SSC12","x":19.6,"blue":0.4,"brown":-0.45,"gold":-0.3,"red":0.1},
{"c":"SSC12","x":21.7,"blue":0.45,"brown":-0.3,"gold":-0.2,"red":0.1},
{"c":"SSC12","x":24,"blue":0.3,"brown":0,"gold":0,"red":0.1},
{"c":"SSC12","x":26,"blue":0.2,"brown":0.3,"gold":0.1,"red":0.1},
{"c":"SSC12","x":28,"blue":0.1,"brown":0.3,"gold":0.2,"red":0.2},
{"c":"SSC12","x":29.3,"blue":0.3,"brown":0,"gold":0.1,"red":0.1},
{"c":"SSC12","x":31.4,"blue":0.3,"brown":0.1,"gold":0.1,"red":0.1},
{"c":"SSC12","x":33.4,"blue":0.4,"brown":0.3,"gold":0.2,"red":0.2},
{"c":"SSC12","x":35.5,"blue":0.1,"brown":0.2,"gold":0.2,"red":0.1},
{"c":"SSC12","x":37.6,"blue":0,"brown":0,"gold":0.1,"red":0},
{"c":"SSC12","x":39.6,"blue":-0.2,"brown":0.1,"gold":0.1,"red":0.1},
{"c":"SSC12","x":41,"blue":-0.1,"brown":0.8,"gold":0.7,"red":0.4},
{"c":"SSC12","x":42.4,"blue":0.1,"brown":0.7,"gold":0.5,"red":0.3},
{"c":"SSC12","x":43.8,"blue":0.3,"brown":0.2,"gold":0.2,"red":0.2},
{"c":"SSC12","x":45,"blue":0.5,"brown":0.1,"gold":0.3,"red":0.5},
{"c":"SSC12","x":46.5,"blue":0.6,"brown":2.4,"gold":1.0,"red":1.3},
{"c":"SSC12","x":48,"blue":0.5,"brown":2.5,"gold":1.05,"red":1.35},
{"c":"SSC12","x":49.3,"blue":0.3,"brown":2.45,"gold":1.0,"red":1.3},
{"c":"SSC12","x":50.7,"blue":0.2,"brown":2.0,"gold":0.9,"red":1.0},
{"c":"SSC12","x":52,"blue":0.1,"brown":1.8,"gold":0.7,"red":0.8},
{"c":"SSC12","x":52.8,"blue":0,"brown":0.3,"gold":0.2,"red":0.2},
{"c":"SSC12","x":53.5,"blue":0,"brown":0,"gold":0,"red":0},
{"c":"SSC12","x":55.5,"blue":0,"brown":0.1,"gold":0.1,"red":0.1},
{"c":"SSC12","x":57,"blue":0.1,"brown":1.2,"gold":0.9,"red":0.6},
{"c":"SSC12","x":57.6,"blue":0.1,"brown":1.3,"gold":1.0,"red":0.7},
{"c":"SSC12","x":58.3,"blue":0,"brown":0.5,"gold":0.5,"red":0.3},
{"c":"SSC12","x":59.7,"blue":0,"brown":0.2,"gold":0.2,"red":0.1},
{"c":"SSC13","x":2.4,"blue":0.1,"brown":-0.1,"gold":-0.2,"red":0.1},
{"c":"SSC13","x":7,"blue":-0.1,"brown":-0.2,"gold":-0.2,"red":0},
{"c":"SSC13","x":12,"blue":0.2,"brown":0.2,"gold":0,"red":0.1},
{"c":"SSC13","x":17,"blue":0.6,"brown":0.3,"gold":0.2,"red":0.4},
{"c":"SSC13","x":21,"blue":0.2,"brown":0.1,"gold":0.1,"red":0.1},
{"c":"SSC13","x":26,"blue":0,"brown":0.3,"gold":0.3,"red":0.2},
{"c":"SSC13","x":31,"blue":0.3,"brown":0.9,"gold":0.9,"red":0.4},
{"c":"SSC13","x":36,"blue":0.4,"brown":0.9,"gold":0.8,"red":0.4},
{"c":"SSC13","x":40,"blue":0.1,"brown":0.2,"gold":0.2,"red":0.1},
{"c":"SSC13","x":45,"blue":0,"brown":0,"gold":0,"red":0.1},
{"c":"SSC13","x":50,"blue":-0.1,"brown":0.5,"gold":0.3,"red":0.1},
{"c":"SSC13","x":55,"blue":-0.4,"brown":0.7,"gold":0.7,"red":0.1},
{"c":"SSC13","x":62,"blue":-0.4,"brown":0.1,"gold":0.3,"red":-0.1},
{"c":"SSC13","x":69,"blue":-0.3,"brown":0.1,"gold":0,"red":-0.2},
{"c":"SSC13","x":74,"blue":-0.2,"brown":0.1,"gold":-0.1,"red":-0.2},
{"c":"SSC13","x":79,"blue":-0.1,"brown":0.1,"gold":-0.1,"red":-0.1},
{"c":"SSC13","x":83,"blue":-0.5,"brown":-0.2,"gold":-0.2,"red":-0.2},
{"c":"SSC13","x":90,"blue":-0.6,"brown":-0.3,"gold":-0.3,"red":-0.2},
{"c":"SSC13","x":93,"blue":-0.7,"brown":-0.2,"gold":-0.2,"red":-0.2},
{"c":"SSC13","x":98,"blue":-0.3,"brown":-0.1,"gold":0,"red":-0.1},
{"c":"SSC13","x":105,"blue":0.1,"brown":0,"gold":0.1,"red":0},
{"c":"SSC13","x":114,"blue":0.1,"brown":0,"gold":0,"red":0},
{"c":"SSC13","x":124,"blue":0.1,"brown":0,"gold":-0.1,"red":0.1},
{"c":"SSC13","x":131,"blue":0,"brown":0.2,"gold":0.1,"red":0.1},
{"c":"SSC13","x":138,"blue":0.1,"brown":0.3,"gold":0.3,"red":0.1},
{"c":"SSC13","x":143,"blue":0.3,"brown":0.4,"gold":0.2,"red":0.2},
{"c":"SSC13","x":148,"blue":0.2,"brown":0,"gold":0.2,"red":0.2},
{"c":"SSC13","x":152,"blue":0.3,"brown":0.4,"gold":0.4,"red":0.2},
{"c":"SSC13","x":160,"blue":0.2,"brown":0.1,"gold":0.1,"red":0.1},
{"c":"SSC13","x":167,"blue":0.1,"brown":0.1,"gold":0,"red":0.1},
{"c":"SSC13","x":176,"blue":0,"brown":0,"gold":0,"red":0},
{"c":"SSC13","x":181,"blue":0,"brown":0.1,"gold":0.1,"red":0},
{"c":"SSC13","x":183,"blue":-0.3,"brown":-0.2,"gold":-0.1,"red":-0.1},
{"c":"SSC13","x":188,"blue":0.2,"brown":-0.5,"gold":-0.2,"red":0},
{"c":"SSC13","x":193,"blue":0.8,"brown":-0.4,"gold":-0.5,"red":0.1},
{"c":"SSC13","x":198,"blue":1.0,"brown":-0.7,"gold":-0.8,"red":0.3},
{"c":"SSC13","x":202,"blue":0.9,"brown":0.3,"gold":0.2,"red":0.3},
{"c":"SSC13","x":207,"blue":0.1,"brown":0.1,"gold":0.1,"red":0.1},
{"c":"SSC14","x":4.4,"blue":-0.1,"brown":0.2,"gold":0,"red":0},
{"c":"SSC14","x":7.8,"blue":0.2,"brown":0,"gold":-0.1,"red":0},
{"c":"SSC14","x":11,"blue":-0.2,"brown":-0.2,"gold":-0.2,"red":-0.1},
{"c":"SSC14","x":14.5,"blue":0.3,"brown":0.1,"gold":0,"red":0.1},
{"c":"SSC14","x":16,"blue":0.65,"brown":-0.3,"gold":-0.2,"red":0},
{"c":"SSC14","x":18.6,"blue":0,"brown":-0.4,"gold":-0.3,"red":-0.1},
{"c":"SSC14","x":21,"blue":-0.1,"brown":-0.2,"gold":-0.1,"red":0},
{"c":"SSC14","x":25,"blue":0.1,"brown":0.1,"gold":0.1,"red":0.1},
{"c":"SSC14","x":28,"blue":0.2,"brown":0.5,"gold":0.5,"red":0.3},
{"c":"SSC14","x":31,"blue":0.1,"brown":0.3,"gold":0.2,"red":0.1},
{"c":"SSC14","x":35,"blue":0,"brown":0,"gold":0,"red":0},
{"c":"SSC14","x":41.5,"blue":0,"brown":0,"gold":0,"red":0},
{"c":"SSC14","x":48,"blue":0,"brown":0,"gold":0,"red":0},
{"c":"SSC14","x":53,"blue":0,"brown":-0.2,"gold":-0.2,"red":0},
{"c":"SSC14","x":55,"blue":0,"brown":-0.3,"gold":-0.4,"red":0},
{"c":"SSC14","x":57,"blue":1.0,"brown":-0.5,"gold":-0.7,"red":0.05},
{"c":"SSC14","x":62,"blue":1.0,"brown":-0.8,"gold":-0.85,"red":0.1},
{"c":"SSC14","x":68.6,"blue":1.0,"brown":-0.85,"gold":-0.85,"red":0.1},
{"c":"SSC14","x":75,"blue":1.0,"brown":-0.8,"gold":-0.85,"red":0.1},
{"c":"SSC14","x":82,"blue":1.0,"brown":-0.9,"gold":-0.95,"red":0.05},
{"c":"SSC14","x":83,"blue":0.4,"brown":-0.8,"gold":-0.8,"red":0},
{"c":"SSC14","x":85.5,"blue":0.3,"brown":-0.5,"gold":-0.4,"red":0},
{"c":"SSC14","x":89,"blue":0.1,"brown":-0.2,"gold":-0.1,"red":-0.1},
{"c":"SSC14","x":92,"blue":-0.3,"brown":-0.3,"gold":-0.2,"red":-0.3},
{"c":"SSC14","x":95.6,"blue":-0.5,"brown":-0.6,"gold":-0.4,"red":-0.4},
{"c":"SSC14","x":100.7,"blue":-0.5,"brown":-0.5,"gold":-0.3,"red":-0.3},
{"c":"SSC14","x":104,"blue":-0.6,"brown":-0.1,"gold":0,"red":-0.2},
{"c":"SSC14","x":107,"blue":-0.5,"brown":0.1,"gold":0,"red":-0.1},
{"c":"SSC14","x":111,"blue":-0.3,"brown":0.5,"gold":0.2,"red":0},
{"c":"SSC14","x":114,"blue":-0.1,"brown":0.5,"gold":0.3,"red":0.1},
{"c":"SSC14","x":117.6,"blue":-0.4,"brown":0.3,"gold":0.5,"red":0.1},
{"c":"SSC14","x":121,"blue":-0.3,"brown":0.2,"gold":0.1,"red":0.1},
{"c":"SSC14","x":126,"blue":-0.2,"brown":0.3,"gold":0.2,"red":0},
{"c":"SSC14","x":129,"blue":-0.3,"brown":0.1,"gold":0,"red":0.1},
{"c":"SSC14","x":133,"blue":-0.1,"brown":0.2,"gold":0.1,"red":0.1},
{"c":"SSC14","x":138,"blue":0.2,"brown":0,"gold":0.1,"red":0.2},
{"c":"SSC14","x":143,"blue":0.2,"brown":-0.1,"gold":0.1,"red":0.2},
{"c":"SSC15","x":3.6,"blue":-0.9,"brown":1.0,"gold":1.3,"red":0},
{"c":"SSC15","x":5,"blue":-0.6,"brown":0.8,"gold":1.0,"red":0.1},
{"c":"SSC15","x":6.5,"blue":-0.3,"brown":0.3,"gold":0.6,"red":0.2},
{"c":"SSC15","x":8,"blue":0,"brown":-0.1,"gold":0.5,"red":0.3},
{"c":"SSC15","x":9.5,"blue":0.8,"brown":-0.2,"gold":0.1,"red":0.3},
{"c":"SSC15","x":12.5,"blue":0.9,"brown":0.2,"gold":0.1,"red":0.4},
{"c":"SSC15","x":15.4,"blue":0.8,"brown":0,"gold":0.2,"red":0.3},
{"c":"SSC15","x":18.4,"blue":0.2,"brown":0.2,"gold":0.3,"red":0.3},
{"c":"SSC15","x":21.4,"blue":0,"brown":0,"gold":0.2,"red":0.1},
{"c":"SSC15","x":24.3,"blue":0.1,"brown":-0.2,"gold":0.1,"red":0},
{"c":"SSC15","x":27.3,"blue":0.4,"brown":-0.3,"gold":-0.1,"red":0},
{"c":"SSC15","x":28.8,"blue":0.75,"brown":-0.5,"gold":-0.2,"red":0},
{"c":"SSC15","x":30,"blue":0.3,"brown":-0.1,"gold":0,"red":0},
{"c":"SSC15","x":34.7,"blue":0.1,"brown":0,"gold":0.1,"red":0},
{"c":"SSC15","x":39,"blue":0.1,"brown":0.3,"gold":0.4,"red":0.3},
{"c":"SSC15","x":40.5,"blue":0.1,"brown":1.4,"gold":0.9,"red":0.7},
{"c":"SSC15","x":42,"blue":0.1,"brown":1.5,"gold":1.0,"red":0.8},
{"c":"SSC15","x":43.6,"blue":0.1,"brown":1.3,"gold":0.7,"red":0.5},
{"c":"SSC15","x":45,"blue":0.05,"brown":0,"gold":0.1,"red":0.1},
{"c":"SSC15","x":48,"blue":0,"brown":-0.1,"gold":0,"red":-0.1},
{"c":"SSC15","x":54,"blue":-0.2,"brown":-0.2,"gold":-0.1,"red":-0.1},
{"c":"SSC15","x":60,"blue":-0.3,"brown":-0.5,"gold":-0.2,"red":-0.1},
{"c":"SSC15","x":66,"blue":-0.3,"brown":-0.5,"gold":-0.2,"red":-0.1},
{"c":"SSC15","x":72,"blue":-0.3,"brown":-0.4,"gold":-0.2,"red":-0.1},
{"c":"SSC15","x":77.7,"blue":-0.1,"brown":-0.2,"gold":-0.1,"red":-0.1},
{"c":"SSC15","x":83.7,"blue":0,"brown":-0.3,"gold":0,"red":0},
{"c":"SSC15","x":89.6,"blue":0,"brown":-0.2,"gold":0,"red":0},
{"c":"SSC15","x":95.5,"blue":0,"brown":-0.1,"gold":0.1,"red":0},
{"c":"SSC15","x":101,"blue":0,"brown":-0.1,"gold":0.1,"red":0},
{"c":"SSC15","x":107,"blue":0,"brown":-0.1,"gold":0,"red":0},
{"c":"SSC15","x":113,"blue":0,"brown":-0.1,"gold":0,"red":0},
{"c":"SSC15","x":119,"blue":0.1,"brown":0,"gold":0.1,"red":0.1},
{"c":"SSC15","x":125,"blue":0.3,"brown":0.3,"gold":0.4,"red":0.3},
{"c":"SSC15","x":129.7,"blue":0.4,"brown":0.2,"gold":0.3,"red":0.3},
{"c":"SSC15","x":132.6,"blue":0.6,"brown":0.7,"gold":0.8,"red":0.6},
{"c":"SSC15","x":135.6,"blue":0.8,"brown":1.9,"gold":1.7,"red":1.1},
{"c":"SSC15","x":138.6,"blue":0.5,"brown":1.7,"gold":1.3,"red":0.9},
{"c":"SSC16","x":4,"blue":0.1,"brown":0.1,"gold":0.2,"red":0.2},
{"c":"SSC16","x":5.7,"blue":0.1,"brown":0.1,"gold":0.1,"red":0.1},
{"c":"SSC16","x":7.5,"blue":0,"brown":0,"gold":0,"red":0.1},
{"c":"SSC16","x":9.3,"blue":0.3,"brown":-0.1,"gold":0,"red":0.1},
{"c":"SSC16","x":11,"blue":0.65,"brown":-0.3,"gold":-0.1,"red":0.1},
{"c":"SSC16","x":13.8,"blue":0.65,"brown":-0.3,"gold":-0.1,"red":0.1},
{"c":"SSC16","x":16.4,"blue":0.65,"brown":-0.3,"gold":-0.1,"red":0.1},
{"c":"SSC16","x":18.2,"blue":0.3,"brown":-0.4,"gold":-0.1,"red":0},
{"c":"SSC16","x":20,"blue":0.1,"brown":0,"gold":0.1,"red":0},
{"c":"SSC16","x":22.7,"blue":0.1,"brown":0,"gold":0,"red":0},
{"c":"SSC16","x":25.4,"blue":-0.1,"brown":0,"gold":-0.1,"red":-0.1},
{"c":"SSC16","x":28,"blue":-0.2,"brown":-0.1,"gold":0,"red":-0.1},
{"c":"SSC16","x":30.7,"blue":-0.3,"brown":-0.1,"gold":0,"red":-0.1},
{"c":"SSC16","x":33.4,"blue":-0.1,"brown":0,"gold":0.1,"red":0},
{"c":"SSC16","x":36,"blue":0,"brown":0,"gold":0.2,"red":0.1},
{"c":"SSC16","x":38,"blue":0,"brown":0.2,"gold":0.3,"red":0.2},
{"c":"SSC16","x":38.8,"blue":0,"brown":1.2,"gold":0.4,"red":0.3},
{"c":"SSC16","x":41.4,"blue":0.1,"brown":1.5,"gold":0.5,"red":0.4},
{"c":"SSC16","x":44,"blue":0,"brown":1.2,"gold":0.6,"red":0.5},
{"c":"SSC16","x":46.8,"blue":0.1,"brown":1.3,"gold":0.8,"red":0.5},
{"c":"SSC16","x":49.5,"blue":0.1,"brown":1.0,"gold":0.7,"red":0.5},
{"c":"SSC16","x":52,"blue":0.3,"brown":0.7,"gold":0.5,"red":0.5},
{"c":"SSC16","x":54.8,"blue":0.4,"brown":0.7,"gold":0.6,"red":0.5},
{"c":"SSC16","x":57.5,"blue":0.2,"brown":1.3,"gold":0.7,"red":0.5},
{"c":"SSC16","x":59.3,"blue":-0.2,"brown":1.9,"gold":0.7,"red":0.5},
{"c":"SSC16","x":60.2,"blue":-0.1,"brown":1.8,"gold":0.6,"red":0.5},
{"c":"SSC16","x":61,"blue":0.1,"brown":0.1,"gold":0.3,"red":0.3},
{"c":"SSC16","x":63.8,"blue":0.3,"brown":-0.1,"gold":0,"red":0.2},
{"c":"SSC16","x":66.4,"blue":0.3,"brown":-0.3,"gold":-0.1,"red":0.1},
{"c":"SSC16","x":69,"blue":0.3,"brown":-0.3,"gold":-0.1,"red":0},
{"c":"SSC16","x":71.8,"blue":0.3,"brown":-0.2,"gold":-0.1,"red":0},
{"c":"SSC16","x":74.5,"blue":0.3,"brown":0.2,"gold":0.1,"red":0.1},
{"c":"SSC16","x":76.3,"blue":0.3,"brown":0.7,"gold":0.4,"red":0.3},
{"c":"SSC16","x":78,"blue":0.3,"brown":0.5,"gold":0.6,"red":0.4},
{"c":"SSC16","x":79.3,"blue":-0.1,"brown":1.4,"gold":1.0,"red":0.6},
{"c":"SSC17","x":7.3,"blue":0.1,"brown":0,"gold":0,"red":0},
{"c":"SSC17","x":9.6,"blue":-0.1,"brown":0,"gold":0,"red":0},
{"c":"SSC17","x":12.7,"blue":-0.1,"brown":-0.1,"gold":0,"red":-0.1},
{"c":"SSC17","x":15.7,"blue":0,"brown":0.1,"gold":0.1,"red":0},
{"c":"SSC17","x":18.7,"blue":0.1,"brown":0.2,"gold":0.2,"red":0.1},
{"c":"SSC17","x":21,"blue":0,"brown":0.3,"gold":0.2,"red":0.1},
{"c":"SSC17","x":22.6,"blue":-0.3,"brown":0.5,"gold":0.4,"red":0.1},
{"c":"SSC17","x":23.3,"blue":-0.6,"brown":0.4,"gold":0.3,"red":0.1},
{"c":"SSC17","x":24.8,"blue":-0.5,"brown":0.4,"gold":0.3,"red":0.1},
{"c":"SSC17","x":26.4,"blue":-0.3,"brown":0.5,"gold":0.3,"red":0.1},
{"c":"SSC17","x":27.9,"blue":-0.3,"brown":0.3,"gold":0.2,"red":0.1},
{"c":"SSC17","x":29.4,"blue":-0.1,"brown":0,"gold":0,"red":0},
{"c":"SSC17","x":31,"blue":0.1,"brown":0.2,"gold":0.2,"red":0.2},
{"c":"SSC17","x":31.8,"blue":0,"brown":2.0,"gold":0.5,"red":0.4},
{"c":"SSC17","x":32.5,"blue":-0.1,"brown":2.6,"gold":0.6,"red":0.6},
{"c":"SSC17","x":33.2,"blue":-0.3,"brown":3.8,"gold":0.8,"red":0.9},
{"c":"SSC17","x":34,"blue":-0.5,"brown":3.9,"gold":0.7,"red":0.8},
{"c":"SSC17","x":35,"blue":-0.2,"brown":2.5,"gold":0.2,"red":0.6},
{"c":"SSC17","x":35.5,"blue":0,"brown":1.5,"gold":0.1,"red":0.5},
{"c":"SSC17","x":37,"blue":0.5,"brown":0.8,"gold":-0.1,"red":0.4},
{"c":"SSC17","x":38.7,"blue":0.9,"brown":-0.2,"gold":-0.3,"red":0.3},
{"c":"SSC17","x":40,"blue":1.0,"brown":-0.5,"gold":-0.5,"red":0.3},
{"c":"SSC17","x":43,"blue":1.0,"brown":-0.6,"gold":-0.55,"red":0.2},
{"c":"SSC17","x":44.7,"blue":0.6,"brown":-0.6,"gold":-0.6,"red":0.2},
{"c":"SSC17","x":46,"blue":0.4,"brown":-0.6,"gold":-0.65,"red":0.1},
{"c":"SSC17","x":47.7,"blue":0.9,"brown":-0.6,"gold":-0.65,"red":0.2},
{"c":"SSC17","x":50,"blue":1.0,"brown":-0.6,"gold":-0.6,"red":0.1},
{"c":"SSC17","x":51.5,"blue":0.6,"brown":-0.6,"gold":-0.5,"red":0.1},
{"c":"SSC17","x":53,"blue":0.2,"brown":-0.4,"gold":-0.3,"red":0.1},
{"c":"SSC17","x":54.6,"blue":-0.1,"brown":-0.2,"gold":-0.1,"red":0},
{"c":"SSC17","x":56,"blue":0.1,"brown":-0.1,"gold":0,"red":0},
{"c":"SSC17","x":57.6,"blue":0.6,"brown":-0.5,"gold":-0.4,"red":0.1},
{"c":"SSC17","x":59,"blue":1.0,"brown":-0.8,"gold":-0.7,"red":0.1},
{"c":"SSC17","x":60.7,"blue":0.9,"brown":-0.8,"gold":-0.8,"red":0},
{"c":"SSC17","x":61.4,"blue":0.5,"brown":-0.6,"gold":-0.5,"red":0},
{"c":"SSC17","x":62.2,"blue":0.2,"brown":-0.3,"gold":-0.3,"red":-0.1},
{"c":"SSC18","x":5.5,"blue":0,"brown":0,"gold":0,"red":0},
{"c":"SSC18","x":6.8,"blue":0,"brown":0,"gold":0,"red":0},
{"c":"SSC18","x":8,"blue":0.1,"brown":0,"gold":0,"red":0},
{"c":"SSC18","x":9.4,"blue":0.2,"brown":0.3,"gold":0.1,"red":0.1},
{"c":"SSC18","x":10.7,"blue":0.1,"brown":0.8,"gold":0.3,"red":0.3},
{"c":"SSC18","x":11.4,"blue":0.2,"brown":1.2,"gold":0.5,"red":0.4},
{"c":"SSC18","x":12.7,"blue":0.2,"brown":1.2,"gold":0.6,"red":0.5},
{"c":"SSC18","x":13.4,"blue":0.3,"brown":1.3,"gold":0.6,"red":0.5},
{"c":"SSC18","x":14,"blue":0.2,"brown":0.5,"gold":0.4,"red":0.4},
{"c":"SSC18","x":15.3,"blue":0.4,"brown":0.9,"gold":0.7,"red":0.6},
{"c":"SSC18","x":16.6,"blue":0.5,"brown":1.0,"gold":0.8,"red":0.7},
{"c":"SSC18","x":18,"blue":0.5,"brown":1.1,"gold":0.8,"red":0.7},
{"c":"SSC18","x":19.2,"blue":0.4,"brown":1.5,"gold":1.0,"red":0.8},
{"c":"SSC18","x":19.9,"blue":0.4,"brown":1.5,"gold":1.1,"red":0.9},
{"c":"SSC18","x":20.5,"blue":0.3,"brown":1.2,"gold":0.9,"red":0.8},
{"c":"SSC18","x":21.8,"blue":0.2,"brown":-0.1,"gold":0.1,"red":0.3},
{"c":"SSC18","x":23,"blue":0.3,"brown":0.1,"gold":0.3,"red":0.4},
{"c":"SSC18","x":24.5,"blue":0.3,"brown":0.4,"gold":0.7,"red":0.6},
{"c":"SSC18","x":25.8,"blue":0.4,"brown":0.6,"gold":0.8,"red":0.8},
{"c":"SSC18","x":26.4,"blue":0.4,"brown":1.8,"gold":1.2,"red":1.0},
{"c":"SSC18","x":27,"blue":0.3,"brown":2.0,"gold":1.3,"red":1.1},
{"c":"SSC18","x":28.4,"blue":0.2,"brown":1.9,"gold":1.2,"red":1.1},
{"c":"SSC18","x":29.3,"blue":0.1,"brown":1.4,"gold":1.0,"red":0.9},
{"c":"SSC18","x":29.7,"blue":0.1,"brown":0.5,"gold":0.5,"red":0.2},
{"c":"SSC18","x":31,"blue":-0.1,"brown":0.6,"gold":0.6,"red":0.2},
{"c":"SSC18","x":32.3,"blue":0,"brown":0.9,"gold":0.8,"red":0.2},
{"c":"SSC18","x":33.6,"blue":-0.1,"brown":0.7,"gold":0.6,"red":0.2},
{"c":"SSC18","x":35,"blue":-0.1,"brown":0.5,"gold":0.5,"red":0.1},
{"c":"SSC18","x":36.3,"blue":-0.1,"brown":0.2,"gold":0.3,"red":0.1},
{"c":"SSC18","x":37.6,"blue":-0.2,"brown":0,"gold":0.1,"red":0},
{"c":"SSC18","x":38.9,"blue":-0.1,"brown":0,"gold":0,"red":0.1},
{"c":"SSC18","x":40.2,"blue":0,"brown":0.1,"gold":0.2,"red":0.2},
{"c":"SSC18","x":41.5,"blue":0,"brown":0.4,"gold":0.6,"red":0.3},
{"c":"SSC18","x":42.8,"blue":0,"brown":0.5,"gold":0.7,"red":0.3},
{"c":"SSC18","x":44.1,"blue":0.1,"brown":0.5,"gold":0.7,"red":0.3},
{"c":"SSC18","x":45.4,"blue":0.1,"brown":0.4,"gold":0.5,"red":0.2},
{"c":"SSC18","x":46.7,"blue":-0.1,"brown":0,"gold":0.1,"red":0},
{"c":"SSC18","x":48,"blue":0.3,"brown":-0.3,"gold":-0.2,"red":-0.1},
{"c":"SSC18","x":49.3,"blue":0.9,"brown":-0.5,"gold":-0.4,"red":0},
{"c":"SSC18","x":50.7,"blue":0.6,"brown":-0.85,"gold":-0.7,"red":0.1},
{"c":"SSC18","x":52,"blue":0.1,"brown":-0.6,"gold":-0.5,"red":0},
{"c":"SSC18","x":53.3,"blue":-0.1,"brown":-0.3,"gold":-0.2,"red":0},
{"c":"SSC18","x":54.6,"blue":-0.2,"brown":0.1,"gold":0.1,"red":0},
{"c":"SSC18","x":55.9,"blue":-0.2,"brown":0.3,"gold":0.2,"red":0.1},
{"c":"SSC18","x":57.2,"blue":-0.2,"brown":0.5,"gold":0.2,"red":0.1}
]},
"columns":3,
"align":"each",
"spacing":{"row":26,"column":15},
"concat":[
{"title":"SSC1","width":196,"height":121,"transform":[{"filter":"datum.c==='SSC1'"},{"fold":["blue","brown","gold","red"],"as":["s","F"]}],"mark":"line",
"encoding":{"x":{"field":"x","type":"quantitative","scale":{"domain":[0,274],"nice":false},"axis":{"values":[0,10,20,30,40,50,60,70,80,90,100,110,120,130,140,150,160,170,180,190,200,210,220,230,240,250,260,270],"labelExpr":"datum.value % 50 === 0 ? format(datum.value,'d') : ''","title":null}},
"y":{"field":"F","type":"quantitative","scale":{"domain":[-3,4],"nice":false},"axis":{"values":[-3,-2,-1,0,1,2,3,4],"labelExpr":"datum.value % 2 !== 0 ? (datum.value < 0 ? '-' : '') + format(abs(datum.value),'.1f') : ''","title":"F","titleFontStyle":"italic","titleFontSize":12,"gridOpacity":{"condition":{"test":"datum.value === -1 || datum.value === 1 || datum.value === 3","value":1},"value":0}}},
"color":{"field":"s","type":"nominal","scale":{"domain":["blue","brown","gold","red"],"range":["#5E4FFF","#8F4A14","#E6A700","#FF1A1A"]},"legend":null}}},
{"title":"SSC2","width":189,"height":121,"transform":[{"filter":"datum.c==='SSC2'"},{"fold":["blue","brown","gold","red"],"as":["s","F"]}],"mark":"line",
"encoding":{"x":{"field":"x","type":"quantitative","scale":{"domain":[0,154],"nice":false},"axis":{"values":[0,10,20,30,40,50,60,70,80,90,100,110,120,130,140,150],"labelExpr":"datum.value % 50 === 0 ? format(datum.value,'d') : ''","title":null}},
"y":{"field":"F","type":"quantitative","scale":{"domain":[-3,4],"nice":false},"axis":{"values":[-3,-2,-1,0,1,2,3,4],"labels":false,"title":null,"gridOpacity":{"condition":{"test":"datum.value === -1 || datum.value === 1 || datum.value === 3","value":1},"value":0}}},
"color":{"field":"s","type":"nominal","scale":{"domain":["blue","brown","gold","red"],"range":["#5E4FFF","#8F4A14","#E6A700","#FF1A1A"]},"legend":null}}},
{"title":"SSC3","width":202,"height":121,"transform":[{"filter":"datum.c==='SSC3'"},{"fold":["blue","brown","gold","red"],"as":["s","F"]}],"mark":"line",
"encoding":{"x":{"field":"x","type":"quantitative","scale":{"domain":[0,133],"nice":false},"axis":{"values":[0,10,20,30,40,50,60,70,80,90,100,110,120,130],"labelExpr":"datum.value % 50 === 0 ? format(datum.value,'d') : ''","title":null}},
"y":{"field":"F","type":"quantitative","scale":{"domain":[-3,4],"nice":false},"axis":{"values":[-3,-2,-1,0,1,2,3,4],"labels":false,"title":null,"gridOpacity":{"condition":{"test":"datum.value === -1 || datum.value === 1 || datum.value === 3","value":1},"value":0}}},
"color":{"field":"s","type":"nominal","scale":{"domain":["blue","brown","gold","red"],"range":["#5E4FFF","#8F4A14","#E6A700","#FF1A1A"]},"legend":null}}},
{"title":"SSC4","width":196,"height":121,"transform":[{"filter":"datum.c==='SSC4'"},{"fold":["blue","brown","gold","red"],"as":["s","F"]}],"mark":"line",
"encoding":{"x":{"field":"x","type":"quantitative","scale":{"domain":[0,133],"nice":false},"axis":{"values":[0,10,20,30,40,50,60,70,80,90,100,110,120,130],"labelExpr":"datum.value % 50 === 0 ? format(datum.value,'d') : ''","title":null}},
"y":{"field":"F","type":"quantitative","scale":{"domain":[-3,4],"nice":false},"axis":{"values":[-3,-2,-1,0,1,2,3,4],"labelExpr":"datum.value % 2 !== 0 ? (datum.value < 0 ? '-' : '') + format(abs(datum.value),'.1f') : ''","title":"F","titleFontStyle":"italic","titleFontSize":12,"gridOpacity":{"condition":{"test":"datum.value === -1 || datum.value === 1 || datum.value === 3","value":1},"value":0}}},
"color":{"field":"s","type":"nominal","scale":{"domain":["blue","brown","gold","red"],"range":["#5E4FFF","#8F4A14","#E6A700","#FF1A1A"]},"legend":null}}},
{"title":"SSC5","width":189,"height":121,"transform":[{"filter":"datum.c==='SSC5'"},{"fold":["blue","brown","gold","red"],"as":["s","F"]}],"mark":"line",
"encoding":{"x":{"field":"x","type":"quantitative","scale":{"domain":[0,105],"nice":false},"axis":{"values":[0,10,20,30,40,50,60,70,80,90,100],"labelExpr":"datum.value % 50 === 0 ? format(datum.value,'d') : ''","title":null}},
"y":{"field":"F","type":"quantitative","scale":{"domain":[-3,4],"nice":false},"axis":{"values":[-3,-2,-1,0,1,2,3,4],"labels":false,"title":null,"gridOpacity":{"condition":{"test":"datum.value === -1 || datum.value === 1 || datum.value === 3","value":1},"value":0}}},
"color":{"field":"s","type":"nominal","scale":{"domain":["blue","brown","gold","red"],"range":["#5E4FFF","#8F4A14","#E6A700","#FF1A1A"]},"legend":null}}},
{"title":"SSC6","width":202,"height":121,"transform":[{"filter":"datum.c==='SSC6'"},{"fold":["blue","brown","gold","red"],"as":["s","F"]}],"mark":"line",
"encoding":{"x":{"field":"x","type":"quantitative","scale":{"domain":[0,171],"nice":false},"axis":{"values":[0,10,20,30,40,50,60,70,80,90,100,110,120,130,140,150,160,170],"labelExpr":"datum.value % 50 === 0 ? format(datum.value,'d') : ''","title":null}},
"y":{"field":"F","type":"quantitative","scale":{"domain":[-3,4],"nice":false},"axis":{"values":[-3,-2,-1,0,1,2,3,4],"labels":false,"title":null,"gridOpacity":{"condition":{"test":"datum.value === -1 || datum.value === 1 || datum.value === 3","value":1},"value":0}}},
"color":{"field":"s","type":"nominal","scale":{"domain":["blue","brown","gold","red"],"range":["#5E4FFF","#8F4A14","#E6A700","#FF1A1A"]},"legend":null}}},
{"title":"SSC7","width":196,"height":121,"transform":[{"filter":"datum.c==='SSC7'"},{"fold":["blue","brown","gold","red"],"as":["s","F"]}],"mark":"line",
"encoding":{"x":{"field":"x","type":"quantitative","scale":{"domain":[0,124],"nice":false},"axis":{"values":[0,10,20,30,40,50,60,70,80,90,100,110,120],"labelExpr":"datum.value % 50 === 0 ? format(datum.value,'d') : ''","title":null}},
"y":{"field":"F","type":"quantitative","scale":{"domain":[-3,4],"nice":false},"axis":{"values":[-3,-2,-1,0,1,2,3,4],"labelExpr":"datum.value % 2 !== 0 ? (datum.value < 0 ? '-' : '') + format(abs(datum.value),'.1f') : ''","title":"F","titleFontStyle":"italic","titleFontSize":12,"gridOpacity":{"condition":{"test":"datum.value === -1 || datum.value === 1 || datum.value === 3","value":1},"value":0}}},
"color":{"field":"s","type":"nominal","scale":{"domain":["blue","brown","gold","red"],"range":["#5E4FFF","#8F4A14","#E6A700","#FF1A1A"]},"legend":null}}},
{"title":"SSC8","width":189,"height":121,"transform":[{"filter":"datum.c==='SSC8'"},{"fold":["blue","brown","gold","red"],"as":["s","F"]}],"mark":"line",
"encoding":{"x":{"field":"x","type":"quantitative","scale":{"domain":[0,140],"nice":false},"axis":{"values":[0,10,20,30,40,50,60,70,80,90,100,110,120,130,140],"labelExpr":"datum.value % 50 === 0 ? format(datum.value,'d') : ''","title":null}},
"y":{"field":"F","type":"quantitative","scale":{"domain":[-3,4],"nice":false},"axis":{"values":[-3,-2,-1,0,1,2,3,4],"labels":false,"title":null,"gridOpacity":{"condition":{"test":"datum.value === -1 || datum.value === 1 || datum.value === 3","value":1},"value":0}}},
"color":{"field":"s","type":"nominal","scale":{"domain":["blue","brown","gold","red"],"range":["#5E4FFF","#8F4A14","#E6A700","#FF1A1A"]},"legend":null}}},
{"title":"SSC9","width":202,"height":121,"transform":[{"filter":"datum.c==='SSC9'"},{"fold":["blue","brown","gold","red"],"as":["s","F"]}],"mark":"line",
"encoding":{"x":{"field":"x","type":"quantitative","scale":{"domain":[0,137],"nice":false},"axis":{"values":[0,10,20,30,40,50,60,70,80,90,100,110,120,130],"labelExpr":"datum.value % 50 === 0 ? format(datum.value,'d') : ''","title":null}},
"y":{"field":"F","type":"quantitative","scale":{"domain":[-3,4],"nice":false},"axis":{"values":[-3,-2,-1,0,1,2,3,4],"labels":false,"title":null,"gridOpacity":{"condition":{"test":"datum.value === -1 || datum.value === 1 || datum.value === 3","value":1},"value":0}}},
"color":{"field":"s","type":"nominal","scale":{"domain":["blue","brown","gold","red"],"range":["#5E4FFF","#8F4A14","#E6A700","#FF1A1A"]},"legend":null}}},
{"title":"SSC10","width":196,"height":121,"transform":[{"filter":"datum.c==='SSC10'"},{"fold":["blue","brown","gold","red"],"as":["s","F"]}],"mark":"line",
"encoding":{"x":{"field":"x","type":"quantitative","scale":{"domain":[0,70],"nice":false},"axis":{"values":[0,10,20,30,40,50,60,70],"labelExpr":"datum.value % 50 === 0 ? format(datum.value,'d') : ''","title":null}},
"y":{"field":"F","type":"quantitative","scale":{"domain":[-3,4],"nice":false},"axis":{"values":[-3,-2,-1,0,1,2,3,4],"labelExpr":"datum.value % 2 !== 0 ? (datum.value < 0 ? '-' : '') + format(abs(datum.value),'.1f') : ''","title":"F","titleFontStyle":"italic","titleFontSize":12,"gridOpacity":{"condition":{"test":"datum.value === -1 || datum.value === 1 || datum.value === 3","value":1},"value":0}}},
"color":{"field":"s","type":"nominal","scale":{"domain":["blue","brown","gold","red"],"range":["#5E4FFF","#8F4A14","#E6A700","#FF1A1A"]},"legend":null}}},
{"title":"SSC11","width":189,"height":121,"transform":[{"filter":"datum.c==='SSC11'"},{"fold":["blue","brown","gold","red"],"as":["s","F"]}],"mark":"line",
"encoding":{"x":{"field":"x","type":"quantitative","scale":{"domain":[0,81],"nice":false},"axis":{"values":[0,10,20,30,40,50,60,70,80],"labelExpr":"datum.value % 50 === 0 ? format(datum.value,'d') : ''","title":null}},
"y":{"field":"F","type":"quantitative","scale":{"domain":[-3,4],"nice":false},"axis":{"values":[-3,-2,-1,0,1,2,3,4],"labels":false,"title":null,"gridOpacity":{"condition":{"test":"datum.value === -1 || datum.value === 1 || datum.value === 3","value":1},"value":0}}},
"color":{"field":"s","type":"nominal","scale":{"domain":["blue","brown","gold","red"],"range":["#5E4FFF","#8F4A14","#E6A700","#FF1A1A"]},"legend":null}}},
{"title":"SSC12","width":202,"height":121,"transform":[{"filter":"datum.c==='SSC12'"},{"fold":["blue","brown","gold","red"],"as":["s","F"]}],"mark":"line",
"encoding":{"x":{"field":"x","type":"quantitative","scale":{"domain":[0,63],"nice":false},"axis":{"values":[0,10,20,30,40,50,60],"labelExpr":"datum.value % 50 === 0 ? format(datum.value,'d') : ''","title":null}},
"y":{"field":"F","type":"quantitative","scale":{"domain":[-3,4],"nice":false},"axis":{"values":[-3,-2,-1,0,1,2,3,4],"labels":false,"title":null,"gridOpacity":{"condition":{"test":"datum.value === -1 || datum.value === 1 || datum.value === 3","value":1},"value":0}}},
"color":{"field":"s","type":"nominal","scale":{"domain":["blue","brown","gold","red"],"range":["#5E4FFF","#8F4A14","#E6A700","#FF1A1A"]},"legend":null}}},
{"title":"SSC13","width":196,"height":121,"transform":[{"filter":"datum.c==='SSC13'"},{"fold":["blue","brown","gold","red"],"as":["s","F"]}],"mark":"line",
"encoding":{"x":{"field":"x","type":"quantitative","scale":{"domain":[0,212],"nice":false},"axis":{"values":[0,10,20,30,40,50,60,70,80,90,100,110,120,130,140,150,160,170,180,190,200,210],"labelExpr":"datum.value % 50 === 0 ? format(datum.value,'d') : ''","title":null}},
"y":{"field":"F","type":"quantitative","scale":{"domain":[-3,4],"nice":false},"axis":{"values":[-3,-2,-1,0,1,2,3,4],"labelExpr":"datum.value % 2 !== 0 ? (datum.value < 0 ? '-' : '') + format(abs(datum.value),'.1f') : ''","title":"F","titleFontStyle":"italic","titleFontSize":12,"gridOpacity":{"condition":{"test":"datum.value === -1 || datum.value === 1 || datum.value === 3","value":1},"value":0}}},
"color":{"field":"s","type":"nominal","scale":{"domain":["blue","brown","gold","red"],"range":["#5E4FFF","#8F4A14","#E6A700","#FF1A1A"]},"legend":null}}},
{"title":"SSC14","width":189,"height":121,"transform":[{"filter":"datum.c==='SSC14'"},{"fold":["blue","brown","gold","red"],"as":["s","F"]}],"mark":"line",
"encoding":{"x":{"field":"x","type":"quantitative","scale":{"domain":[0,145],"nice":false},"axis":{"values":[0,10,20,30,40,50,60,70,80,90,100,110,120,130,140],"labelExpr":"datum.value % 50 === 0 ? format(datum.value,'d') : ''","title":null}},
"y":{"field":"F","type":"quantitative","scale":{"domain":[-3,4],"nice":false},"axis":{"values":[-3,-2,-1,0,1,2,3,4],"labels":false,"title":null,"gridOpacity":{"condition":{"test":"datum.value === -1 || datum.value === 1 || datum.value === 3","value":1},"value":0}}},
"color":{"field":"s","type":"nominal","scale":{"domain":["blue","brown","gold","red"],"range":["#5E4FFF","#8F4A14","#E6A700","#FF1A1A"]},"legend":null}}},
{"title":"SSC15","width":202,"height":121,"transform":[{"filter":"datum.c==='SSC15'"},{"fold":["blue","brown","gold","red"],"as":["s","F"]}],"mark":"line",
"encoding":{"x":{"field":"x","type":"quantitative","scale":{"domain":[0,140],"nice":false},"axis":{"values":[0,10,20,30,40,50,60,70,80,90,100,110,120,130,140],"labelExpr":"datum.value % 50 === 0 ? format(datum.value,'d') : ''","title":null}},
"y":{"field":"F","type":"quantitative","scale":{"domain":[-3,4],"nice":false},"axis":{"values":[-3,-2,-1,0,1,2,3,4],"labels":false,"title":null,"gridOpacity":{"condition":{"test":"datum.value === -1 || datum.value === 1 || datum.value === 3","value":1},"value":0}}},
"color":{"field":"s","type":"nominal","scale":{"domain":["blue","brown","gold","red"],"range":["#5E4FFF","#8F4A14","#E6A700","#FF1A1A"]},"legend":null}}},
{"title":"SSC16","width":196,"height":121,"transform":[{"filter":"datum.c==='SSC16'"},{"fold":["blue","brown","gold","red"],"as":["s","F"]}],"mark":"line",
"encoding":{"x":{"field":"x","type":"quantitative","scale":{"domain":[0,80],"nice":false},"axis":{"values":[0,10,20,30,40,50,60,70,80],"labelExpr":"datum.value % 50 === 0 ? format(datum.value,'d') : ''","title":"Mb","titleFontSize":14.5,"titlePadding":1}},
"y":{"field":"F","type":"quantitative","scale":{"domain":[-3,4],"nice":false},"axis":{"values":[-3,-2,-1,0,1,2,3,4],"labelExpr":"datum.value % 2 !== 0 ? (datum.value < 0 ? '-' : '') + format(abs(datum.value),'.1f') : ''","title":"F","titleFontStyle":"italic","titleFontSize":12,"gridOpacity":{"condition":{"test":"datum.value === -1 || datum.value === 1 || datum.value === 3","value":1},"value":0}}},
"color":{"field":"s","type":"nominal","scale":{"domain":["blue","brown","gold","red"],"range":["#5E4FFF","#8F4A14","#E6A700","#FF1A1A"]},"legend":null}}},
{"title":"SSC17","width":189,"height":121,"transform":[{"filter":"datum.c==='SSC17'"},{"fold":["blue","brown","gold","red"],"as":["s","F"]}],"mark":"line",
"encoding":{"x":{"field":"x","type":"quantitative","scale":{"domain":[0,65],"nice":false},"axis":{"values":[0,10,20,30,40,50,60],"labelExpr":"datum.value % 50 === 0 ? format(datum.value,'d') : ''","title":"Mb","titleFontSize":14.5,"titlePadding":1}},
"y":{"field":"F","type":"quantitative","scale":{"domain":[-3,4],"nice":false},"axis":{"values":[-3,-2,-1,0,1,2,3,4],"labels":false,"title":null,"gridOpacity":{"condition":{"test":"datum.value === -1 || datum.value === 1 || datum.value === 3","value":1},"value":0}}},
"color":{"field":"s","type":"nominal","scale":{"domain":["blue","brown","gold","red"],"range":["#5E4FFF","#8F4A14","#E6A700","#FF1A1A"]},"legend":null}}},
{"title":"SSC18","width":202,"height":121,"transform":[{"filter":"datum.c==='SSC18'"},{"fold":["blue","brown","gold","red"],"as":["s","F"]}],"mark":"line",
"encoding":{"x":{"field":"x","type":"quantitative","scale":{"domain":[0,60],"nice":false},"axis":{"values":[0,10,20,30,40,50,60],"labelExpr":"datum.value % 50 === 0 ? format(datum.value,'d') : ''","title":"Mb","titleFontSize":14.5,"titlePadding":1}},
"y":{"field":"F","type":"quantitative","scale":{"domain":[-3,4],"nice":false},"axis":{"values":[-3,-2,-1,0,1,2,3,4],"labels":false,"title":null,"gridOpacity":{"condition":{"test":"datum.value === -1 || datum.value === 1 || datum.value === 3","value":1},"value":0}}},
"color":{"field":"s","type":"nominal","scale":{"domain":["blue","brown","gold","red"],"range":["#5E4FFF","#8F4A14","#E6A700","#FF1A1A"]},"legend":null}}}
]
}
